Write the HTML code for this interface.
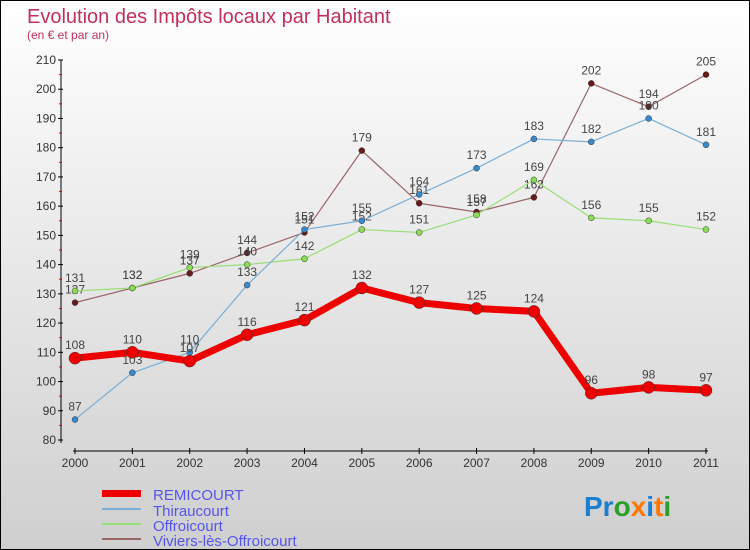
<!DOCTYPE html>
<html><head><meta charset="utf-8"><style>
body{margin:0}
#c{position:relative;width:748px;height:548px;border:1px solid #000;background:linear-gradient(#fff,#cfcfcf);font-family:"Liberation Sans",sans-serif;overflow:hidden}
</style></head><body>
<div id="c">
<svg id="s" width="748" height="548" xmlns="http://www.w3.org/2000/svg">
<text x="26" y="22" font-size="20" fill="#c0305a">Evolution des Impôts locaux par Habitant</text>
<text x="26" y="38" font-size="12" fill="#c0305a">(en € et par an)</text>
<g id="axes"></g><g id="series"></g>
<g>
<rect x="101" y="489" width="39" height="7" fill="#e00"/>
<text x="152" y="499" font-size="15" fill="#5555ee">REMICOURT</text>
<line x1="101" y1="508" x2="140" y2="508" stroke="#7aaed6" stroke-width="2"/>
<text x="152" y="515" font-size="15" fill="#5555ee">Thiraucourt</text>
<line x1="101" y1="523" x2="140" y2="523" stroke="#99dd77" stroke-width="2"/>
<text x="152" y="530" font-size="15" fill="#5555ee">Offroicourt</text>
<line x1="101" y1="538" x2="140" y2="538" stroke="#996666" stroke-width="2"/>
<text x="152" y="545" font-size="15" fill="#5555ee">Viviers-lès-Offroicourt</text>
</g>
<text x="583" y="515" font-size="28" font-weight="bold"><tspan fill="#1a7fd0">Pr</tspan><tspan fill="#2aa02a">o</tspan><tspan fill="#ff7700">x</tspan><tspan fill="#1a7fd0">i</tspan><tspan fill="#ff7700">t</tspan><tspan fill="#2aa02a">i</tspan></text>
</svg></div>
<script>
const years=["2000","2001","2002","2003","2004","2005","2006","2007","2008","2009","2010","2011"];
const yTicks=[80,90,100,110,120,130,140,150,160,170,180,190,200,210];
const remicourt=[108,110,107,116,121,132,127,125,124,96,98,97];
const thiraucourt=[87,103,110,133,152,155,164,173,183,182,190,181];
const offroicourt=[131,132,139,140,142,152,151,157,169,156,155,152];
const viviers=[127,132,137,144,151,179,161,158,163,202,194,205];
const NS="http://www.w3.org/2000/svg";
const X=i=>74+i*(631/11);
const Y=v=>439-(v-80)*(380/130);
function mk(t,a,p){const e=document.createElementNS(NS,t);for(const k in a)e.setAttribute(k,a[k]);p.appendChild(e);return e;}
const ax=document.getElementById('axes');
let l=mk('line',{x1:60,y1:59,x2:60,y2:442,stroke:'#000'},ax);


l=mk('line',{x1:72,y1:450,x2:707,y2:450,stroke:'#000'},ax);


yTicks.forEach((v,i)=>{const y=Y(v);
 mk('line',{x1:57,y1:y,x2:62,y2:y,stroke:'#000'},ax);
 if(i<yTicks.length-1)mk('line',{x1:58,y1:Y(v+5),x2:61,y2:Y(v+5),stroke:'#e00'},ax);
 const t=mk('text',{x:55,y:y+4,'font-size':12,'text-anchor':'end',fill:'#333'},ax);t.textContent=v;
 
 });
years.forEach((yr,i)=>{const x=X(i);
 mk('line',{x1:x,y1:447,x2:x,y2:453,stroke:'#000'},ax);
 const t=mk('text',{x:x,y:466,'font-size':12,'text-anchor':'middle',fill:'#333'},ax);t.textContent=yr;
 
 });
const sg=document.getElementById('series');
function draw(d,col,w,r,dot,name){
 const g=mk('g',{},sg);
 
 
 mk('polyline',{points:d.map((v,i)=>X(i)+','+Y(v)).join(' '),fill:'none',stroke:col,'stroke-width':w,'stroke-linejoin':'round'},g);
 d.forEach((v,i)=>{const c=mk('circle',{cx:X(i),cy:Y(v),r:r,fill:dot,stroke:'#333','stroke-width':0.5},g);
  
  
  const t=mk('text',{x:X(i),y:Y(v)-9,'font-size':12,'text-anchor':'middle',fill:'#444'},g);t.textContent=v;
  
  });
}
draw(viviers,'#996666',1.2,3,'#6a1a1a','viviers-series');
draw(offroicourt,'#99dd77',1.2,3,'#88dd55','offroicourt-series');
draw(thiraucourt,'#7aaed6',1.2,3,'#3a88cc','thiraucourt-series');
draw(remicourt,'#ee0000',7,6,'#ee0000','remicourt-series');
</script>
</body></html>
